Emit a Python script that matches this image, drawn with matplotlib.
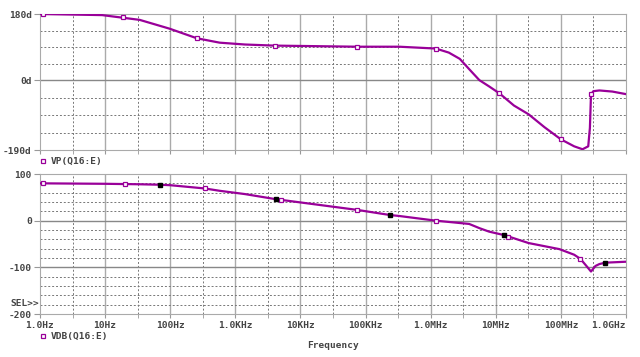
import numpy as np
import matplotlib.pyplot as plt

# ---- data ----
freq_phase = [1.0, 9, 34, 98, 256, 575, 1400, 4000, 75e3, 330e3, 1.2e6, 1.9e6, 2.8e6, 3.9e6,
              5.6e6, 7.9e6, 11.4e6, 19e6, 32e6, 56e6, 100e6, 160e6, 215e6, 263e6, 279e6,
              290e6, 315e6, 390e6, 617e6, 1e9]
phase = [180, 177, 164, 140, 114, 102, 97, 94, 91, 91, 86, 75, 58, 30,
         0, -17, -36, -69, -93, -128, -161, -180, -188, -180, -130,
         -39, -30, -28, -31, -38]
phase_mark_f = [1.1, 18.7, 256, 4000, 75e3, 1.2e6, 11.4e6, 100e6, 290e6]
phase_mark_v = [180, 172, 114, 94, 91, 86, -36, -161, -39]

freq_db = [1.0, 10, 34, 69, 100, 340, 575, 1400, 4200, 75e3, 240e3, 330e3, 1.2e6, 3.9e6,
           5.6e6, 7.9e6, 13.5e6, 32e6, 95e6, 160e6, 200e6, 250e6, 290e6, 340e6, 390e6,
           480e6, 1e9]
vdb = [80, 79, 78, 77, 76, 69, 64, 57, 46, 23, 12, 10, 0, -7,
       -16, -23.5, -31, -48, -61, -73, -82, -98, -109, -97, -93,
       -90, -88]
db_mark_f = [1.1, 20, 340, 5100, 75e3, 1.2e6, 15.5e6, 200e6]
db_mark_v = [80, 78.6, 69, 45, 23, 0, -35, -82]
db_black_f = [69, 4200, 240e3, 13.5e6, 480e6]
db_black_v = [77, 46, 12, -31, -90]

xlabels = ['1.0Hz', '10Hz', '100Hz', '1.0KHz', '10KHz', '100KHz', '1.0MHz', '10MHz', '100MHz', '1.0GHz']

purple = '#990099'
txt = '#444444'
font = dict(family='DejaVu Sans Mono', weight='bold', size=6.8, color=txt)

fig = plt.figure(figsize=(6.4, 3.57), dpi=100)
ax1 = fig.add_axes([40/640, 1-150/357, 586/640, 136/357])
ax2 = fig.add_axes([40/640, 1-314/357, 586/640, 140/357])

decades = [10.0**k for k in range(10)]
halfdec = [10.0**(k+0.5) for k in range(9)]

def style(ax, hminor, hmajor):
    ax.set_xscale('log')
    ax.set_xlim(1, 1e9)
    for x in decades[1:-1]:
        ax.axvline(x, color='#aaaaaa', lw=1, zorder=1)
    for x in halfdec:
        ax.axvline(x, color='#777777', lw=0.7, ls=(0, (2, 2)), zorder=1)
    for y in hminor:
        ax.axhline(y, color='#777777', lw=0.7, ls=(0, (2, 2)), zorder=1)
    for y in hmajor:
        ax.axhline(y, color='#888888', lw=1, zorder=1)
    for s in ax.spines.values():
        s.set_color('#aaaaaa')
    ax.set_xticks(decades)
    ax.set_xticks(halfdec, minor=True)
    ax.xaxis.set_minor_formatter(plt.NullFormatter())
    ax.tick_params(axis='both', which='both', direction='out', length=3, color='#999999')
    ax.tick_params(axis='y', which='major', length=4, pad=2)
    ax.tick_params(axis='x', which='major', pad=2)

style(ax1, [135, 90, 45, -47.5, -95, -142.5], [0])
ax1.set_ylim(-190, 180)
ax1.set_yticks([180, 0, -190])
ax1.set_yticklabels(['180d', '0d', '-190d'], **font)
ax1.set_xticklabels([])
ax1.plot(freq_phase, phase, color=purple, lw=1.6, zorder=3)
ax1.plot(phase_mark_f, phase_mark_v, ls='none', marker='s', ms=3.5, mfc='white',
         mec=purple, mew=0.9, zorder=4)

style(ax2, [80, 60, 40, 20, -20, -40, -60, -80, -120, -140, -160, -180], [0, -100])
ax2.set_ylim(-200, 100)
ax2.set_yticks([100, 0, -100, -200])
ax2.set_yticklabels(['100', '0', '-100', '-200'], **font)
ax2.set_xticklabels(xlabels, **font)
ax2.get_xticklabels()[-1].set_ha('right')
ax2.plot(freq_db, vdb, color=purple, lw=1.6, zorder=3)
ax2.plot(db_mark_f, db_mark_v, ls='none', marker='s', ms=3.5, mfc='white',
         mec=purple, mew=0.9, zorder=4)
ax2.plot(db_black_f, db_black_v, ls='none', marker='s', ms=3.5, mfc='black',
         mec='black', zorder=4)

# legends / labels
for yy, lab in [(161, 'VP(Q16:E)'), (336, 'VDB(Q16:E)')]:
    ax1.plot([43/640], [1-yy/357], marker='s', ms=3.5, mfc='white', mec=purple, mew=0.9,
             transform=fig.transFigure, clip_on=False)
    fig.text(51/640, 1-yy/357, lab, va='center', ha='left', **font)
fig.text(10/640, 1-303/357, 'SEL>>', va='center', ha='left', **font)
fig.text(333/640, 1-346/357, 'Frequency', va='center', ha='center', **font)

fig.savefig('out.png', dpi=100)
